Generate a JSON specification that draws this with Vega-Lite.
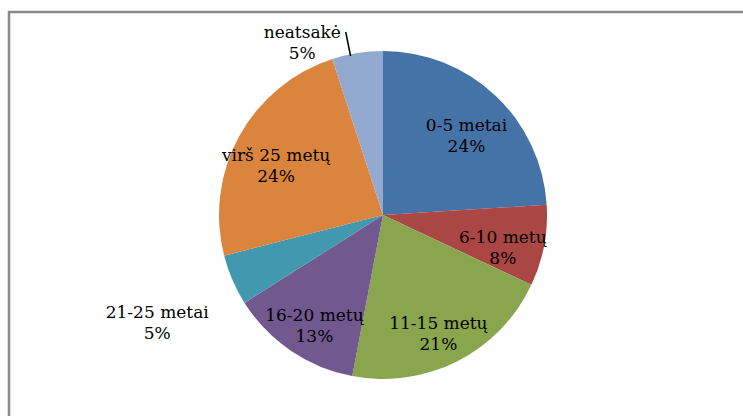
{
  "$schema": "https://vega.github.io/schema/vega-lite/v6.json",
  "width": 748,
  "height": 406,
  "autosize": "none",
  "padding": {"left": 9, "top": 12, "right": 0, "bottom": 0},
  "background": "white",
  "config": {"view": {"stroke": null}},
  "data": {"values": [
    {"idx": 1, "cat": "0-5 metai", "value": 24, "label": "0-5 metai\n24%"},
    {"idx": 2, "cat": "6-10 metų", "value": 8, "label": "6-10 metų\n8%"},
    {"idx": 3, "cat": "11-15 metų", "value": 21, "label": "11-15 metų\n21%"},
    {"idx": 4, "cat": "16-20 metų", "value": 13, "label": "16-20 metų\n13%"},
    {"idx": 5, "cat": "21-25 metai", "value": 5, "label": "21-25 metai\n5%"},
    {"idx": 6, "cat": "virš 25 metų", "value": 24, "label": "virš 25 metų\n24%"},
    {"idx": 7, "cat": "neatsakė", "value": 5, "label": "neatsakė\n5%"}
  ]},
  "encoding": {
    "theta": {"field": "value", "type": "quantitative", "stack": true},
    "order": {"field": "idx", "type": "quantitative"}
  },
  "layer": [
    {
      "data": {"values": [{"frame": 1}]},
      "mark": {"type": "rect", "fill": null, "stroke": "#898989", "strokeWidth": 2.5},
      "encoding": {"theta": null, "order": null}
    },
    {
      "mark": {"type": "arc", "outerRadius": 164},
      "encoding": {
        "color": {"field": "cat", "type": "nominal", "legend": null,
          "scale": {"domain": ["0-5 metai", "6-10 metų", "11-15 metų", "16-20 metų", "21-25 metai", "virš 25 metų", "neatsakė"],
                    "range": ["#4572A7", "#AA4643", "#89A54E", "#71588F", "#4198AF", "#DB843D", "#93A9CF"]}}
      }
    },
    {
      "mark": {"type": "text", "radius": 122, "font": "DejaVu Serif", "fontSize": 17, "lineBreak": "\n", "align": "center", "baseline": "middle", "color": "black", "lineHeight": 21},
      "encoding": {
        "text": {"condition": {"test": "datum.cat === '21-25 metai' || datum.cat === 'neatsakė'", "value": ""}, "field": "label"}
      }
    },
    {
      "mark": {"type": "text", "radius": 246, "font": "DejaVu Serif", "fontSize": 17, "lineBreak": "\n", "align": "center", "baseline": "middle", "color": "black", "lineHeight": 21},
      "encoding": {
        "text": {"condition": {"test": "datum.cat !== '21-25 metai'", "value": ""}, "field": "label"}
      }
    },
    {
      "mark": {"type": "text", "radius": 190, "dx": -51, "dy": 6, "font": "DejaVu Serif", "fontSize": 17, "lineBreak": "\n", "align": "center", "baseline": "middle", "color": "black", "lineHeight": 21},
      "encoding": {
        "text": {"condition": {"test": "datum.cat !== 'neatsakė'", "value": ""}, "field": "label"}
      }
    },
    {
      "data": {"values": [{"leader": "neatsakė"}]},
      "mark": {"type": "arc", "theta": 6.082, "theta2": 6.0822, "innerRadius": 163, "outerRadius": 186, "stroke": "black", "strokeWidth": 1.5, "fill": "black"},
      "encoding": {"theta": null, "order": null}
    }
  ]
}
